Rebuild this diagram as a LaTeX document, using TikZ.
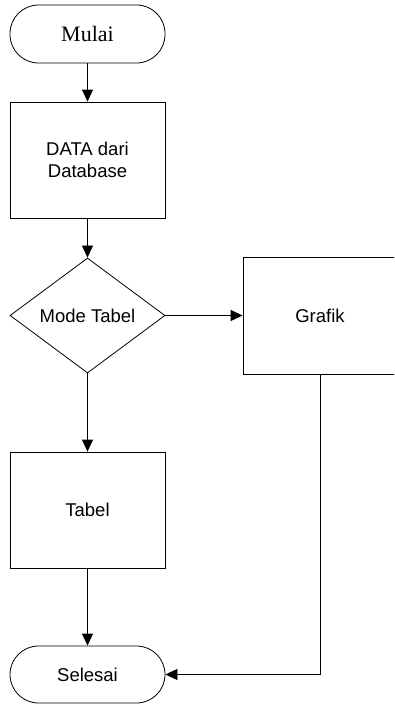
\documentclass[tikz,border=0pt]{standalone}
\usepackage{fontspec}
\setmainfont{Liberation Sans}
\newfontfamily\timesfont{Liberation Serif}
\usetikzlibrary{shapes.geometric,arrows.meta}

\begin{document}
\begin{tikzpicture}[
		x=1pt, y=-1pt,
		line width=0.8pt,
		every node/.style={draw, inner sep=0pt, font=\fontsize{18.5}{21.5}\selectfont, align=center},
		terminal/.style={rectangle, rounded corners=28.5pt, minimum width=155pt, minimum height=58pt},
		process/.style={rectangle, minimum width=155pt, minimum height=116pt},
		decision/.style={diamond, aspect=1.35, minimum width=155pt, minimum height=115pt},
		arrow/.style={-{Triangle[length=12pt,width=11pt]}}
		]
		\useasboundingbox (0,0) rectangle (394,704);
		\clip (0,0) rectangle (394,704);
		% nodes
		\node[terminal, font=\fontsize{22}{26}\selectfont\timesfont] (mulai) at (87.5,34) {Mulai};
		\node[process] (data) at (87.5,160) {DATA dari\\Database};
		\node[decision] (mode) at (87.5,315.5) {Mode Tabel};
		\node[process, minimum width=154pt, minimum height=117pt] (grafik) at (320,315.5) {Grafik};
		\node[process] (tabel) at (87.5,510) {Tabel};
		\node[terminal, minimum height=57pt] (selesai) at (87.5,674.5) {Selesai};
		% connectors
		\draw[arrow] (mulai) -- (data);
		\draw[arrow] (data) -- (mode);
		\draw[arrow] (mode) -- (grafik);
		\draw[arrow] (mode) -- (tabel);
		\draw[arrow] (tabel) -- (selesai);
		\draw[arrow] (grafik.south) |- (selesai.east);
		\end{tikzpicture}
\end{document}
